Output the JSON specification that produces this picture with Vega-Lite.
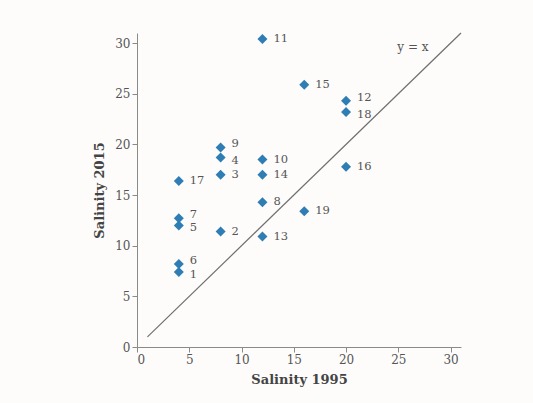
{
  "$schema": "https://vega.github.io/schema/vega-lite/v6.json",
  "autosize": "none",
  "width": 324,
  "height": 314,
  "padding": {"left": 137, "top": 33, "right": 72, "bottom": 56},
  "background": "#fdfcfa",
  "config": {
    "view": {"stroke": null},
    "font": "DejaVu Serif",
    "axis": {
      "grid": false,
      "domainColor": "#8a8a8a",
      "tickColor": "#8a8a8a",
      "tickSize": 5,
      "labelFont": "DejaVu Serif",
      "labelFontSize": 12,
      "labelColor": "#555555",
      "titleFont": "DejaVu Serif",
      "titleFontSize": 13,
      "titleFontWeight": "bold",
      "titleColor": "#444444"
    }
  },
  "datasets": {
    "pts": [
      {"id": "1", "s1995": 4, "s2015": 7.4},
      {"id": "2", "s1995": 8, "s2015": 11.4},
      {"id": "3", "s1995": 8, "s2015": 17.0},
      {"id": "4", "s1995": 8, "s2015": 18.7},
      {"id": "5", "s1995": 4, "s2015": 12.0},
      {"id": "6", "s1995": 4, "s2015": 8.2},
      {"id": "7", "s1995": 4, "s2015": 12.7},
      {"id": "8", "s1995": 12, "s2015": 14.3},
      {"id": "9", "s1995": 8, "s2015": 19.7},
      {"id": "10", "s1995": 12, "s2015": 18.5},
      {"id": "11", "s1995": 12, "s2015": 30.4},
      {"id": "12", "s1995": 20, "s2015": 24.3},
      {"id": "13", "s1995": 12, "s2015": 10.9},
      {"id": "14", "s1995": 12, "s2015": 17.0},
      {"id": "15", "s1995": 16, "s2015": 25.9},
      {"id": "16", "s1995": 20, "s2015": 17.8},
      {"id": "17", "s1995": 4, "s2015": 16.4},
      {"id": "18", "s1995": 20, "s2015": 23.2},
      {"id": "19", "s1995": 16, "s2015": 13.4}
    ],
    "line": [
      {"s1995": 1, "s2015": 1},
      {"s1995": 31, "s2015": 31}
    ],
    "lbl": [
      {"s1995": 26.4, "s2015": 29.6, "t": "y = x"}
    ]
  },
  "layer": [
    {
      "data": {"name": "line"},
      "mark": {"type": "line", "color": "#6e6e6e", "strokeWidth": 1.2},
      "encoding": {
        "x": {"field": "s1995", "type": "quantitative", "scale": {"domain": [0, 31], "nice": false}, "axis": {"title": "Salinity 1995", "values": [0, 5, 10, 15, 20, 25, 30], "titlePadding": 8}},
        "y": {"field": "s2015", "type": "quantitative", "scale": {"domain": [0, 31], "nice": false}, "axis": {"title": "Salinity 2015", "values": [0, 5, 10, 15, 20, 25, 30], "titlePadding": 8}}
      }
    },
    {
      "data": {"name": "pts"},
      "mark": {"type": "point", "shape": "diamond", "filled": true, "size": 100, "color": "#2f7db5", "opacity": 1},
      "encoding": {
        "x": {"field": "s1995", "type": "quantitative"},
        "y": {"field": "s2015", "type": "quantitative"}
      }
    },
    {
      "data": {"name": "pts"},
      "transform": [{"filter": "indexof(['1','4','5','6','7','9','12','18'], datum.id) < 0"}],
      "mark": {"type": "text", "align": "left", "baseline": "middle", "dx": 11, "fontSize": 11.5, "color": "#555555", "font": "DejaVu Serif"},
      "encoding": {
        "x": {"field": "s1995", "type": "quantitative"},
        "y": {"field": "s2015", "type": "quantitative"},
        "text": {"field": "id"}
      }
    },
    {
      "data": {"name": "pts"},
      "transform": [{"filter": "indexof(['6','7','9','12'], datum.id) >= 0"}],
      "mark": {"type": "text", "align": "left", "baseline": "middle", "dx": 11, "dy": -3, "fontSize": 11.5, "color": "#555555", "font": "DejaVu Serif"},
      "encoding": {
        "x": {"field": "s1995", "type": "quantitative"},
        "y": {"field": "s2015", "type": "quantitative"},
        "text": {"field": "id"}
      }
    },
    {
      "data": {"name": "pts"},
      "transform": [{"filter": "indexof(['1','4','5','18'], datum.id) >= 0"}],
      "mark": {"type": "text", "align": "left", "baseline": "middle", "dx": 11, "dy": 3, "fontSize": 11.5, "color": "#555555", "font": "DejaVu Serif"},
      "encoding": {
        "x": {"field": "s1995", "type": "quantitative"},
        "y": {"field": "s2015", "type": "quantitative"},
        "text": {"field": "id"}
      }
    },
    {
      "data": {"name": "lbl"},
      "mark": {"type": "text", "align": "center", "baseline": "middle", "fontSize": 12, "color": "#555555", "font": "DejaVu Serif"},
      "encoding": {
        "x": {"field": "s1995", "type": "quantitative"},
        "y": {"field": "s2015", "type": "quantitative"},
        "text": {"field": "t"}
      }
    }
  ]
}
